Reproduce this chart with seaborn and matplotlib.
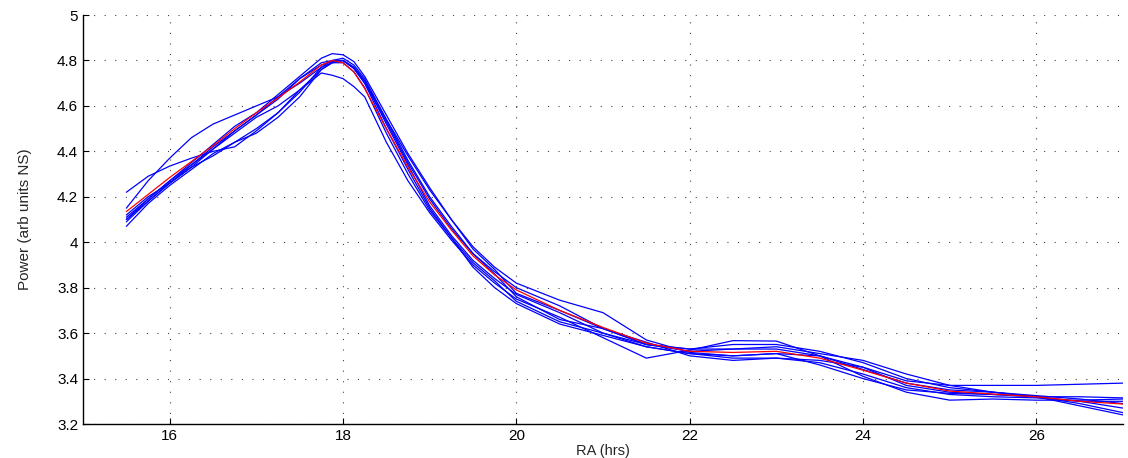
import numpy as np
import pandas as pd
import matplotlib
matplotlib.use("Agg")
import matplotlib.pyplot as plt
import seaborn as sns
from matplotlib.ticker import FuncFormatter

# ---------------- data ----------------
ra = [15.5, 15.75, 16.0, 16.25, 16.5, 16.75, 17.0, 17.25, 17.5, 17.75, 17.875, 18.0,
      18.125, 18.25, 18.5, 18.75, 19.0, 19.25, 19.5, 19.75, 20.0, 20.5, 21.0, 21.5,
      22.0, 22.5, 23.0, 23.5, 24.0, 24.5, 25.0, 25.5, 26.0, 26.5, 27.0]

run1 = [4.22, 4.29, 4.335, 4.37, 4.40, 4.42, 4.49, 4.57, 4.67, 4.76, 4.79, 4.80,
        4.77, 4.71, 4.54, 4.38, 4.23, 4.10, 3.98, 3.89, 3.82, 3.745, 3.69, 3.57,
        3.515, 3.50, 3.51, 3.50, 3.45, 3.39, 3.37, 3.37, 3.37, 3.375, 3.38]
run2 = [4.15, 4.27, 4.37, 4.46, 4.52, 4.56, 4.60, 4.64, 4.72, 4.78, 4.795, 4.80,
        4.765, 4.70, 4.53, 4.35, 4.19, 4.06, 3.95, 3.87, 3.80, 3.72, 3.62, 3.55,
        3.52, 3.53, 3.54, 3.51, 3.48, 3.42, 3.37, 3.34, 3.32, 3.28, 3.24]
run3 = [4.11, 4.19, 4.27, 4.35, 4.43, 4.51, 4.57, 4.65, 4.73, 4.81, 4.83, 4.825,
        4.795, 4.73, 4.56, 4.39, 4.24, 4.10, 3.97, 3.88, 3.775, 3.70, 3.62, 3.55,
        3.53, 3.55, 3.55, 3.52, 3.47, 3.40, 3.36, 3.34, 3.32, 3.29, 3.25]
run4 = [4.10, 4.18, 4.26, 4.33, 4.41, 4.48, 4.55, 4.60, 4.67, 4.745, 4.735, 4.72,
        4.685, 4.64, 4.44, 4.27, 4.13, 4.01, 3.90, 3.82, 3.75, 3.67, 3.58, 3.49,
        3.525, 3.567, 3.565, 3.50, 3.41, 3.34, 3.305, 3.31, 3.305, 3.305, 3.31]
run5 = [4.07, 4.17, 4.25, 4.32, 4.39, 4.44, 4.48, 4.55, 4.64, 4.76, 4.79, 4.80,
        4.77, 4.71, 4.52, 4.34, 4.16, 4.03, 3.92, 3.84, 3.77, 3.69, 3.60, 3.54,
        3.51, 3.49, 3.49, 3.47, 3.42, 3.36, 3.33, 3.32, 3.315, 3.30, 3.30]
run6 = [4.10, 4.19, 4.27, 4.34, 4.42, 4.49, 4.56, 4.63, 4.72, 4.79, 4.80, 4.80,
        4.765, 4.70, 4.50, 4.32, 4.15, 4.02, 3.91, 3.83, 3.74, 3.65, 3.60, 3.55,
        3.53, 3.53, 3.53, 3.50, 3.44, 3.38, 3.35, 3.34, 3.325, 3.31, 3.29]
run7 = [4.12, 4.20, 4.26, 4.33, 4.38, 4.44, 4.50, 4.57, 4.66, 4.77, 4.80, 4.81,
        4.78, 4.72, 4.54, 4.36, 4.20, 4.07, 3.95, 3.86, 3.76, 3.66, 3.62, 3.56,
        3.50, 3.48, 3.49, 3.48, 3.45, 3.37, 3.34, 3.33, 3.32, 3.32, 3.315]
run8 = [4.09, 4.18, 4.26, 4.34, 4.41, 4.49, 4.56, 4.64, 4.70, 4.77, 4.79, 4.79,
        4.75, 4.68, 4.48, 4.30, 4.14, 4.02, 3.89, 3.80, 3.73, 3.64, 3.59, 3.54,
        3.51, 3.50, 3.51, 3.46, 3.40, 3.35, 3.335, 3.33, 3.32, 3.30, 3.27]
mean_power = [4.135, 4.21, 4.285, 4.355, 4.425, 4.50, 4.57, 4.635, 4.705, 4.78, 4.80, 4.79,
              4.75, 4.677, 4.50, 4.33, 4.177, 4.054, 3.94, 3.856, 3.79, 3.70, 3.625, 3.556,
              3.52, 3.515, 3.52, 3.49, 3.437, 3.38, 3.345, 3.332, 3.32, 3.30, 3.288]

xticks = [16, 18, 20, 22, 24, 26]
yticks = [3.2, 3.4, 3.6, 3.8, 4.0, 4.2, 4.4, 4.6, 4.8, 5.0]

# ---------------- plot ----------------
sns.set_style("ticks")
plt.rcParams['font.family'] = ['Liberation Sans', 'DejaVu Sans']

runs = {"run1": run1, "run2": run2, "run3": run3, "run4": run4,
        "run5": run5, "run6": run6, "run7": run7, "run8": run8}
frames = [pd.DataFrame({"RA": ra, "Power": v, "series": k}) for k, v in runs.items()]
df = pd.concat(frames, ignore_index=True)

fig = plt.figure(figsize=(11.28, 4.58), dpi=100)
ax = fig.add_axes([0.0736, 0.0742, 0.9220, 0.8930])

sns.lineplot(data=df, x="RA", y="Power", hue="series",
             palette={k: "#0000ff" for k in runs}, linewidth=0.9,
             legend=False, ax=ax, sort=False, estimator=None)
sns.lineplot(x=ra, y=mean_power, color="#ff0000", linewidth=0.9, ax=ax,
             sort=False, estimator=None)

ax.set_xlim(15, 27)
ax.set_ylim(3.2, 5.0)
ax.set_xticks(xticks)
ax.set_yticks(yticks)
ax.yaxis.set_major_formatter(FuncFormatter(lambda v, p: "%g" % round(v, 2)))
ax.tick_params(direction="in", length=4, width=0.8, labelsize=11, colors="black")
ax.grid(True, linestyle=(0, (1, 8.5)), linewidth=0.8, color="#444444")
for s in ["top", "right"]:
    ax.spines[s].set_visible(False)
for s in ["left", "bottom"]:
    ax.spines[s].set_linewidth(1.0)
    ax.spines[s].set_color("black")

ax.set_xlabel("RA (hrs)", fontsize=10.5, labelpad=1)
ax.set_ylabel("Power (arb units NS)", fontsize=11, labelpad=18)

fig.savefig("out.png", dpi=100)
